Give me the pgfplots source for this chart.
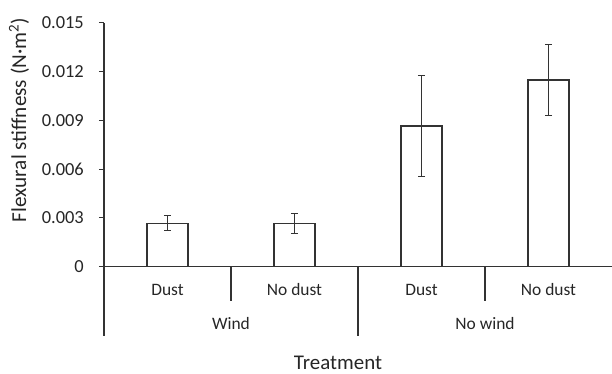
\documentclass[border=0pt]{standalone}
\usepackage{pgfplots}
\pgfplotsset{compat=1.18}
\usepackage{fontspec}
\setmainfont{Carlito}
\definecolor{txt}{gray}{0.15}
\definecolor{ln}{gray}{0.2}
\begin{document}
\begin{tikzpicture}
\begin{axis}[
  at={(0,0)}, anchor=south west,
  scale only axis, width=508bp, height=244bp,
  xmin=0, xmax=4, ymin=0, ymax=0.015,
  axis x line*=bottom, axis y line*=left,
  axis line style={ln, line width=1.1bp, -},
  xtick=\empty,
  scaled y ticks=false,
  ytick={0,0.003,0.006,0.009,0.012,0.015},
  yticklabels={0,0.003,0.006,0.009,0.012,0.015},
  tick align=outside, major tick length=5bp,
  y tick style={ln, line width=1.1bp},
  yticklabel style={font=\fontsize{18.5}{21}\selectfont, text=txt},
  every tick label/.append style={inner xsep=0pt},
  yticklabel shift=15bp,
  clip=false,
  ybar, bar width=41bp,
]
\addplot[draw=ln, fill=white, line width=1.2bp,
  error bars/.cd, y dir=both, y explicit,
  error bar style={ln, line width=1bp},
  error mark options={ln, line width=1bp, mark size=3.5bp, rotate=90}]
  coordinates {
  (0.5,0.00267) +- (0,0.00045)
  (1.5,0.00268) +- (0,0.00062)
  (2.5,0.00865) +- (0,0.00313)
  (3.5,0.01148) +- (0,0.00220)
};
% category separators
\draw[ln, line width=1.1bp] (axis cs:0,0) -- ++(0,-69bp);
\draw[ln, line width=1.1bp] (axis cs:2,0) -- ++(0,-69bp);
\draw[ln, line width=1.1bp] (axis cs:1,0) -- ++(0,-34bp);
\draw[ln, line width=1.1bp] (axis cs:3,0) -- ++(0,-34bp);
\node[text=txt, font=\fontsize{17.5}{20}\selectfont, anchor=base, inner sep=0pt] at ([yshift=-28.3bp]axis cs:0.5,0) {Dust};
\node[text=txt, font=\fontsize{17.5}{20}\selectfont, anchor=base, inner sep=0pt] at ([yshift=-28.3bp]axis cs:1.5,0) {No dust};
\node[text=txt, font=\fontsize{17.5}{20}\selectfont, anchor=base, inner sep=0pt] at ([yshift=-28.3bp]axis cs:2.5,0) {Dust};
\node[text=txt, font=\fontsize{17.5}{20}\selectfont, anchor=base, inner sep=0pt] at ([yshift=-28.3bp]axis cs:3.5,0) {No dust};
\node[text=txt, font=\fontsize{17.5}{20}\selectfont, anchor=base, inner sep=0pt] at ([yshift=-62.3bp]axis cs:1,0) {Wind};
\node[text=txt, font=\fontsize{17.5}{20}\selectfont, anchor=base, inner sep=0pt] at ([yshift=-62.3bp]axis cs:3,0) {No wind};
\node[text=txt, font=\fontsize{21}{24}\selectfont, anchor=base, inner sep=0pt] at ([xshift=234bp,yshift=-102.5bp]rel axis cs:0,0) {Treatment};
\node[text=txt, font=\fontsize{21.3}{24}\selectfont, anchor=center, rotate=90, inner sep=0pt] at ([xshift=-85bp,yshift=146.7bp]rel axis cs:0,0) {Flexural stiffness (N·m\textsuperscript{2})};
\end{axis}
\pgfresetboundingbox
\path[use as bounding box] (-104bp,-107.3bp) rectangle (508bp,266.7bp);
\end{tikzpicture}
\end{document}
